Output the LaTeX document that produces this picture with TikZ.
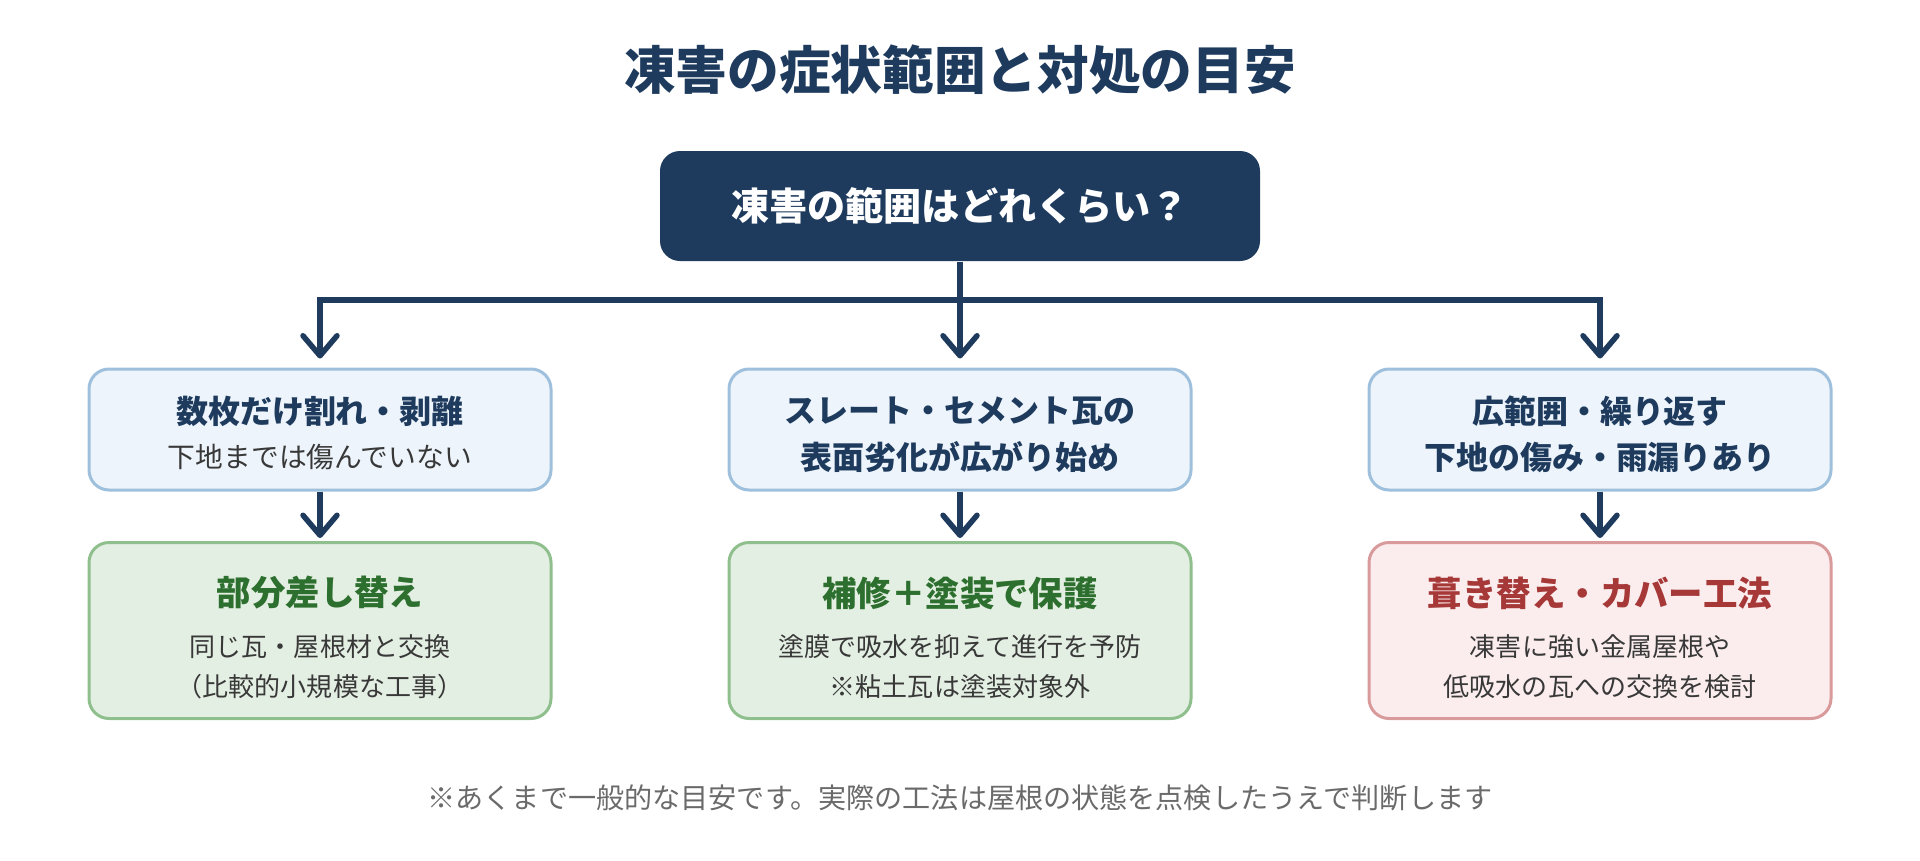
\documentclass[tikz,border=0pt]{standalone}
\usepackage{fontspec}
\setmainfont{Noto Sans CJK JP}
\usetikzlibrary{arrows.meta,positioning}

\definecolor{navy}{HTML}{1E3B5E}
\definecolor{bluefill}{HTML}{EDF4FB}
\definecolor{blueline}{HTML}{9EC0DD}
\definecolor{greenfill}{HTML}{E4EFE3}
\definecolor{greenline}{HTML}{8FBF8D}
\definecolor{greentext}{HTML}{2D6F2E}
\definecolor{redfill}{HTML}{FBEDED}
\definecolor{redline}{HTML}{D99A9C}
\definecolor{redtext}{HTML}{A63838}
\definecolor{subgray}{HTML}{383838}
\definecolor{notegray}{HTML}{6A6A6A}

\tikzset{
  qbox/.style={draw=blueline, fill=bluefill, line width=0.03cm, rounded corners=0.2cm,
    minimum width=4.62cm, minimum height=1.21cm},
  okbox/.style={draw=greenline, fill=greenfill, line width=0.03cm, rounded corners=0.2cm,
    minimum width=4.62cm, minimum height=1.76cm},
  ngbox/.style={okbox, draw=redline, fill=redfill},
  qhead/.style={inner sep=0pt, text=navy, font=\bfseries\fontsize{9.1}{11}\selectfont},
  qsub/.style={inner sep=0pt, text=subgray, font=\fontsize{7.9}{9.5}\selectfont},
  ahead/.style={inner sep=0pt, font=\bfseries\fontsize{9.8}{12}\selectfont},
  asub/.style={inner sep=0pt, text=subgray, font=\fontsize{7.4}{9}\selectfont},
  link/.style={draw=navy, line width=0.055cm},
  arrow/.style={link, -{Straight Barb[length=0.2cm, width=0.34cm, line cap=round, line join=round]}}
}

\begin{document}
\begin{tikzpicture}[x=1cm, y=-1cm]
\useasboundingbox (0,0) rectangle (19.2,8.6);

\node[text=navy, font=\bfseries\fontsize{14.7}{17}\selectfont] (title) at (9.6,0.70) {凍害の症状範囲と対処の目安};

% question on top
\node[fill=navy, rounded corners=0.2cm, minimum width=6cm, minimum height=1.1cm,
  text=white, font=\bfseries\fontsize{10.85}{13}\selectfont] (q) at (9.6,2.06) {凍害の範囲はどれくらい？};

% three columns: case and what to do
\foreach \x/\n/\s in {3.2/1/okbox, 9.6/2/okbox, 16.0/3/ngbox} {
  \node[qbox] (c\n) at (\x,4.295) {};
  \node[\s] (a\n) at (\x,6.305) {};
  \draw[arrow, shorten >=0.03cm] (c\n) -- (a\n);
}

\node[qhead] (c1a) at (3.2,4.11) {数枚だけ割れ・剥離};
\node[qsub] (c1b) at (3.2,4.57) {下地までは傷んでいない};
\node[qhead] (c2a) at (9.6,4.11) {スレート・セメント瓦の};
\node[qhead] (c2b) at (9.6,4.57) {表面劣化が広がり始め};
\node[qhead] (c3a) at (16.0,4.11) {広範囲・繰り返す};
\node[qhead] (c3b) at (16.0,4.57) {下地の傷み・雨漏りあり};

\node[ahead, text=greentext] (a1a) at (3.2,5.93) {部分差し替え};
\node[asub] (a1b) at (3.2,6.47) {同じ瓦・屋根材と交換};
\node[asub] (a1c) at (3.2,6.87) {（比較的小規模な工事）};
\node[ahead, text=greentext] (a2a) at (9.6,5.93) {補修＋塗装で保護};
\node[asub] (a2b) at (9.6,6.47) {塗膜で吸水を抑えて進行を予防};
\node[asub] (a2c) at (9.6,6.87) {※粘土瓦は塗装対象外};
\node[ahead, text=redtext] (a3a) at (16.0,5.93) {葺き替え・カバー工法};
\node[asub] (a3b) at (16.0,6.47) {凍害に強い金属屋根や};
\node[asub] (a3c) at (16.0,6.87) {低吸水の瓦への交換を検討};

% branching lines
\coordinate (fork) at (9.6,3.00);
\draw[link] (q) -- (fork);
\draw[arrow, shorten >=0.09cm] (fork) -| (c1);
\draw[arrow, shorten >=0.09cm] (fork) -| (c3);
\draw[arrow, shorten >=0.09cm] (fork) -- (c2);

\node[text=notegray, font=\fontsize{8}{9.6}\selectfont] (note) at (9.6,7.98)
  {※あくまで一般的な目安です。実際の工法は屋根の状態を点検したうえで判断します};
\end{tikzpicture}
\end{document}
